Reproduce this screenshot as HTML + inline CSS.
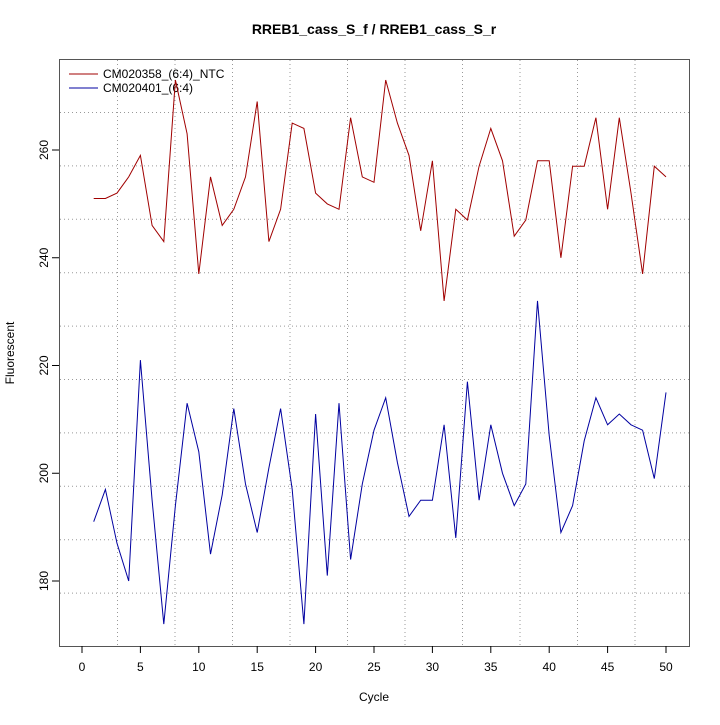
<!DOCTYPE html>
<html><head><style>body{margin:0;background:#fff}</style></head><body>
<svg width="720" height="720" xmlns="http://www.w3.org/2000/svg" font-family="Liberation Sans, sans-serif">
<rect width="720" height="720" fill="#fff"/>
<text x="374" y="34" text-anchor="middle" font-weight="bold" font-size="14">RREB1_cass_S_f / RREB1_cass_S_r</text>
<g id="grid" stroke="#999" stroke-dasharray="1,3" stroke-width="1"></g>
<rect x="59.5" y="59.5" width="630" height="587" fill="none" stroke="#555"/>
<g id="axes" stroke="#000" font-size="12"></g>
<text x="374" y="701" text-anchor="middle" font-size="12">Cycle</text>
<text transform="translate(14,353) rotate(-90)" text-anchor="middle" font-size="12">Fluorescent</text>
<line x1="69" y1="74" x2="98" y2="74" stroke="#a00000"/>
<line x1="69" y1="88" x2="98" y2="88" stroke="#0000a0"/>
<text x="103" y="78" font-size="12">CM020358_(6:4)_NTC</text>
<text x="103" y="92" font-size="12">CM020401_(6:4)</text>
<polyline id="r" fill="none" stroke="#a00000" stroke-width="1"/>
<polyline id="b" fill="none" stroke="#0000a0" stroke-width="1"/>
<script>
var ns="http://www.w3.org/2000/svg";
function X(c){return 82+11.68*c}
function Y(v){return 150+(260-v)*5.3875}
var g=document.getElementById("grid"),a=document.getElementById("axes");
function el(p,t,at,txt){var e=document.createElementNS(ns,t);for(var k in at)e.setAttribute(k,at[k]);if(txt!=null)e.textContent=txt;p.appendChild(e);return e}
for(var k=0;k<10;k++){var x=117.5+57.5*k;el(g,"line",{x1:x,y1:60,x2:x,y2:646});var y=112.5+53.4*k;el(g,"line",{x1:60,y1:y,x2:689,y2:y});}
for(var c=0;c<=50;c+=5){var x=X(c);el(a,"line",{x1:x,y1:646,x2:x,y2:653});el(a,"text",{x:x,y:671,"text-anchor":"middle",stroke:"none"},c);}
for(var v=180;v<=260;v+=20){var y=Y(v);el(a,"line",{x1:52,y1:y,x2:59,y2:y});el(a,"text",{transform:"translate(48,"+y+") rotate(-90)","text-anchor":"middle",stroke:"none"},v);}
var R=[251,251,252,255,259,246,243,273,263,237,255,246,249,255,269,243,249,265,264,252,250,249,266,255,254,273,265,259,245,258,232,249,247,257,264,258,244,247,258,258,240,257,257,266,249,266,252,237,257,255];
var B=[191,197,187,180,221,195,172,194,213,204,185,196,212,198,189,201,212,197,172,211,181,213,184,198,208,214,202,192,195,195,209,188,217,195,209,200,194,198,232,207,189,194,206,214,209,211,209,208,199,215];
function pts(d){return d.map(function(v,i){return X(i+1).toFixed(1)+","+Y(v).toFixed(1)}).join(" ")}
document.getElementById("r").setAttribute("points",pts(R));
document.getElementById("b").setAttribute("points",pts(B));
</script>
</svg>
</body></html>
